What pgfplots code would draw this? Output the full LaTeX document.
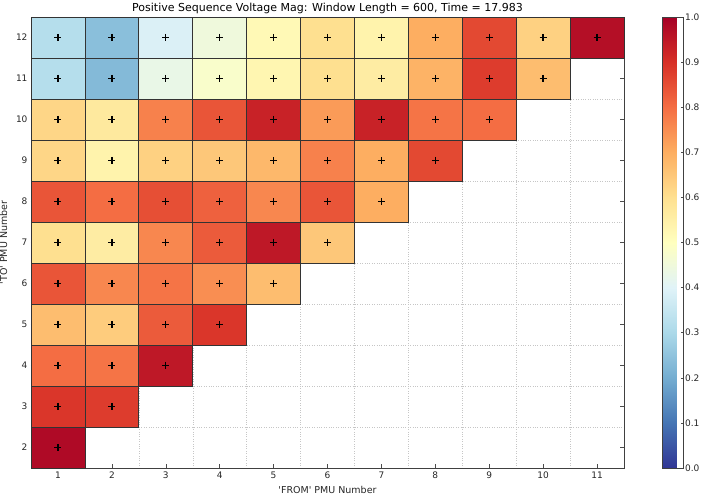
\documentclass[border=0pt]{standalone}
\usepackage{fontspec}
\setmainfont{DejaVu Sans}[Ligatures=TeXOff]
\usepackage{pgfplots}
\usepackage{pgfplotstable}
\pgfplotsset{compat=1.18}

% cells: x = FROM PMU, y = TO PMU, v = value
\pgfplotstableread{
x  y  v
1  12 0.32
2  12 0.24
3  12 0.39
4  12 0.45
5  12 0.52
6  12 0.60
7  12 0.54
8  12 0.70
9  12 0.86
10 12 0.63
11 12 0.97
1  11 0.32
2  11 0.23
3  11 0.43
4  11 0.48
5  11 0.53
6  11 0.60
7  11 0.56
8  11 0.69
9  11 0.88
10 11 0.67
1  10 0.62
2  10 0.57
3  10 0.77
4  10 0.84
5  10 0.93
6  10 0.73
7  10 0.93
8  10 0.79
9  10 0.80
1  9  0.62
2  9  0.54
3  9  0.63
4  9  0.65
5  9  0.68
6  9  0.77
7  9  0.70
8  9  0.86
1  8  0.84
2  8  0.80
3  8  0.85
4  8  0.82
5  8  0.76
6  8  0.84
7  8  0.70
1  7  0.60
2  7  0.56
3  7  0.76
4  7  0.83
5  7  0.95
6  7  0.65
1  6  0.84
2  6  0.76
3  6  0.79
4  6  0.75
5  6  0.67
1  5  0.67
2  5  0.64
3  5  0.83
4  5  0.89
1  4  0.80
2  4  0.79
3  4  0.95
1  3  0.89
2  3  0.88
1  2  0.98
}\cells

\begin{document}
\begin{tikzpicture}
\useasboundingbox (-31pt,-29pt) rectangle (675pt,468pt);
\begin{axis}[
    name=main,
    at={(0pt,0pt)}, anchor=south west,
    scale only axis,
    width=593pt, height=451pt,
    xmin=0.5, xmax=11.5, ymin=1.5, ymax=12.5,
    xtick={1,...,11}, ytick={2,...,12},
    minor xtick={1.5,2.5,...,10.5},
    minor ytick={2.5,3.5,...,11.5},
    xminorgrids, yminorgrids,
    minor grid style={gray!45, dotted, line width=0.4pt},
    minor tick length=0pt,
    major tick length=4pt,
    tick style={black!70, line width=0.5pt},
    axis line style={black!75, line width=0.9pt},
    ticklabel style={font=\fontsize{9}{10}\selectfont, text=black!85},
    /pgf/number format/assume math mode=true,
    title={Positive Sequence Voltage Mag: Window Length = 600, Time = 17.983},
    title style={font=\fontsize{11}{12}\selectfont, yshift=-6pt},
    xlabel={'FROM' PMU Number}, ylabel={\textquotesingle TO' PMU Number},
    label style={font=\fontsize{9.5}{10}\selectfont, text=black!85},
    xlabel style={yshift=-1pt},
    ylabel style={yshift=2pt},
    colormap={RdYlBu_r}{rgb255=(49,54,149) rgb255=(69,117,180)
        rgb255=(116,173,209) rgb255=(171,217,233) rgb255=(224,243,248)
        rgb255=(255,255,191) rgb255=(254,224,144) rgb255=(253,174,97)
        rgb255=(244,109,67) rgb255=(215,48,39) rgb255=(165,0,38)},
    point meta min=0, point meta max=1,
    colorbar,
    colorbar style={
        at={(parent axis.north east)}, anchor=north west, xshift=30pt,
        scale only axis, width=21pt, height=451pt,
        ytick={0,0.1,0.2,0.3,0.4,0.5,0.6,0.7,0.8,0.9,1},
        yticklabel style={/pgf/number format/.cd, fixed, fixed zerofill, precision=1},
        ytick pos=right, yticklabel pos=right,
        major tick length=3pt,
        tick style={black!70, line width=0.5pt},
        axis line style={black!75, line width=0.9pt},
        ticklabel style={font=\fontsize{9}{10}\selectfont, text=black!85, xshift=-2pt},
        /pgf/number format/assume math mode=true,
    },
]
\addplot[scatter, only marks, mark=square*, mark size=20.5pt,
    mark options={xscale=1.3149, line width=0.7pt},
    scatter/use mapped color={draw=black!80, fill=mapped color},
    point meta=explicit]
    table[x=x, y=y, meta=v] {\cells};
\addplot[only marks, mark=+, mark size=3.5pt, black,
    mark options={line width=1.3pt}]
    table[x=x, y=y] {\cells};
\end{axis}
\end{tikzpicture}
\end{document}
